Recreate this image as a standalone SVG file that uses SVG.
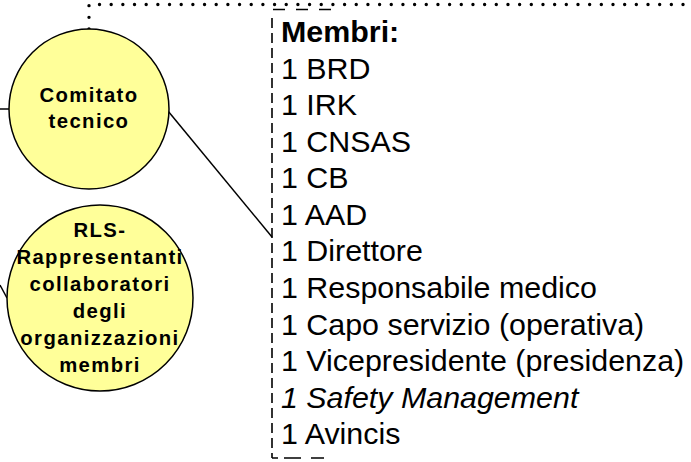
<svg xmlns="http://www.w3.org/2000/svg" width="691" height="462" viewBox="0 0 691 462">
<style>
.node circle{fill:#FFFF99;stroke:#000;stroke-width:1.5}
.nt{font-family:"Liberation Sans",Arial,sans-serif;font-weight:bold;font-size:20.3px;letter-spacing:1.4px;text-anchor:middle;fill:#000}
.lt{font-family:"Liberation Sans",Arial,sans-serif;font-size:30.4px;fill:#000}
.conn line,.conn path{fill:none;stroke:#000;stroke-width:1.5}
.dot{stroke-width:3.4 !important;stroke-linecap:round;stroke-dasharray:0 11.67}
.dash{stroke-width:1.6 !important;stroke-dasharray:10 5}
</style>
<rect width="691" height="462" fill="#fff"/>
<g id="connectors" class="conn">
<path class="dot" d="M89,29 V4.5 H686"/>
<line x1="0" y1="109" x2="9" y2="109"/>
<line x1="0" y1="285" x2="7" y2="298"/>
<line x1="168" y1="111" x2="272" y2="237"/>
</g>
<g id="membri-box" class="conn">
<line class="dash" x1="272" y1="18" x2="272" y2="458"/>
<line style="stroke-width:1.6;stroke-dasharray:12 11" x1="273" y1="9.5" x2="333" y2="9.5"/>
<line style="stroke-width:1.6;stroke-dasharray:6 6 17 10 13" x1="272" y1="458" x2="325" y2="458"/>
</g>
<g id="comitato" class="node">
<circle cx="89" cy="109" r="80"/>
<text class="nt" x="89" y="101.7">Comitato</text>
<text class="nt" x="89" y="128">tecnico</text>
</g>
<g id="rls" class="node">
<circle cx="100" cy="298" r="93"/>
<text class="nt" x="100" y="236.5">RLS-</text>
<text class="nt" x="100" y="263.6">Rappresentanti</text>
<text class="nt" x="100" y="290.7">collaboratori</text>
<text class="nt" x="100" y="317.8">degli</text>
<text class="nt" x="100" y="344.9">organizzazioni</text>
<text class="nt" x="100" y="372">membri</text>
</g>
<g id="membri">
<text class="lt" x="281" y="42" font-weight="bold">Membri:</text>
<text class="lt" x="281" y="79">1 BRD</text>
<text class="lt" x="281" y="115">1 IRK</text>
<text class="lt" x="281" y="152">1 CNSAS</text>
<text class="lt" x="281" y="188">1 CB</text>
<text class="lt" x="281" y="225">1 AAD</text>
<text class="lt" x="281" y="261">1 Direttore</text>
<text class="lt" x="281" y="298">1 Responsabile medico</text>
<text class="lt" x="281" y="335">1 Capo servizio (operativa)</text>
<text class="lt" x="281" y="371">1 Vicepresidente (presidenza)</text>
<text class="lt" x="281" y="408" font-style="italic">1 Safety Management</text>
<text class="lt" x="281" y="444">1 Avincis</text>
</g>
</svg>
